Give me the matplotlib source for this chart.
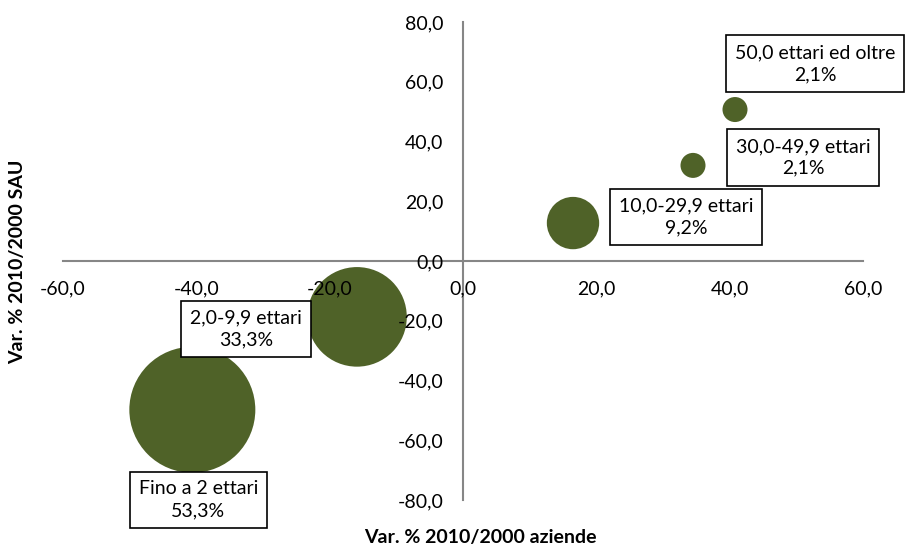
import matplotlib
matplotlib.use("Agg")
import matplotlib.pyplot as plt
import numpy as np

plt.rcParams['font.family'] = ['Lato', 'DejaVu Sans']

# classi di SAU: variazione % aziende (x), variazione % SAU (y), quota aziende (bolla)
classi = ['Fino a 2 ettari', '2,0-9,9 ettari', '10,0-29,9 ettari',
          '30,0-49,9 ettari', '50,0 ettari ed oltre']
var_aziende = [-40.6, -15.9, 16.5, 34.5, 40.8]
var_sau = [-49.8, -18.7, 12.7, 32.0, 50.7]
quota = [53.3, 33.3, 9.2, 2.1, 2.1]

# spostamento delle etichette rispetto alla bolla (pixel)
offset_px = [(6, -90), (-111, -12), (113, 6), (110, 8), (80, 46)]

green = '#4f6228'
axis_grey = '#868686'


def fmt(v):
    return f"{v:.1f}".replace('.', ',')


fig = plt.figure(figsize=(9.06, 5.49), dpi=100)
ax = fig.add_axes([63 / 906, 49 / 549, 800 / 906, 478 / 549])

size_scale = 154.4
ax.scatter(var_aziende, var_sau, s=np.array(quota) * size_scale,
           color=green, edgecolors='none', zorder=1, clip_on=False)

ax.set_xlim(-60, 60)
ax.set_ylim(-80, 80)
ax.set_xticks(np.arange(-60, 61, 20))
ax.set_yticks(np.arange(-80, 81, 20))
ax.set_xticklabels([fmt(v) for v in ax.get_xticks()])
ax.set_yticklabels([fmt(v) for v in ax.get_yticks()])

for side in ['top', 'right']:
    ax.spines[side].set_visible(False)
ax.spines['left'].set_position(('data', 0))
ax.spines['bottom'].set_position(('data', 0))
for side in ['left', 'bottom']:
    ax.spines[side].set_color(axis_grey)
    ax.spines[side].set_linewidth(1.5)
    ax.spines[side].set_zorder(0.5)

# etichette degli assi sopra le bolle
ax.xaxis.set_zorder(2)
ax.yaxis.set_zorder(2)
ax.tick_params(axis='both', length=0, labelsize=14, colors='black')
ax.tick_params(axis='x', pad=14)
ax.tick_params(axis='y', pad=14)

for nome, x, y, q, (dx, dy) in zip(classi, var_aziende, var_sau, quota, offset_px):
    ax.annotate(f"{nome}\n{fmt(q)}%", xy=(x, y),
                xytext=(dx * 0.72, dy * 0.72), textcoords='offset points',
                ha='center', va='center', fontsize=14, linespacing=1.35,
                bbox=dict(boxstyle='square,pad=0.45', fc='white', ec='black', lw=1.2),
                zorder=4)

fig.text(480 / 906, 1 - 538 / 549, 'Var. % 2010/2000 aziende', ha='center',
         va='center', fontsize=14, fontweight='bold')
fig.text(18 / 906, 1 - 262 / 549, 'Var. % 2010/2000 SAU', ha='center',
         va='center', rotation=90, fontsize=14, fontweight='bold')

fig.savefig('out.png', dpi=100)
